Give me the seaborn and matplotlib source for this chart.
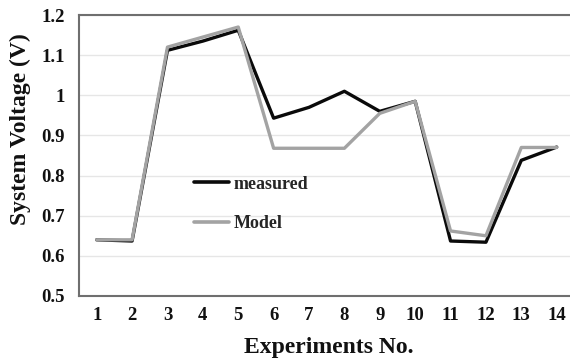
import matplotlib
matplotlib.use("Agg")
import matplotlib.pyplot as plt
import seaborn as sns
import pandas as pd

experiments = list(range(1, 15))
measured = [0.64, 0.637, 1.112, 1.135, 1.162, 0.943, 0.97, 1.01, 0.96, 0.985, 0.637, 0.634, 0.838, 0.871]
model = [0.64, 0.64, 1.12, 1.145, 1.17, 0.868, 0.868, 0.868, 0.955, 0.985, 0.662, 0.65, 0.87, 0.87]
series_names = ["measured", "Model"]
y_ticks = [0.5, 0.6, 0.7, 0.8, 0.9, 1.0, 1.1, 1.2]
y_tick_labels = ["0.5", "0.6", "0.7", "0.8", "0.9", "1", "1.1", "1.2"]

df = pd.DataFrame({
    "Experiment": experiments * 2,
    "Voltage": measured + model,
    "Series": [series_names[0]] * len(measured) + [series_names[1]] * len(model),
})

sns.set_theme(style="white")
plt.rcParams["font.family"] = ["Liberation Serif", "DejaVu Serif"]
plt.rcParams["font.weight"] = "bold"

fig = plt.figure(figsize=(5.70, 3.59), dpi=100)
W, H = 570, 359
left, right, top, bottom = 79, 574.4, 15, 296
ax = fig.add_axes([left / W, 1 - bottom / H, (right - left) / W, (bottom - top) / H])

sns.lineplot(data=df, x="Experiment", y="Voltage", hue="Series",
             hue_order=series_names, palette=["#0a0a0a", "#a3a3a3"],
             linewidth=2.4, ax=ax)

ax.set_xlim(0.5, 14.5)
ax.set_ylim(0.5, 1.2)
ax.set_yticks(y_ticks)
ax.set_yticklabels(y_tick_labels)
ax.set_xticks(experiments)
ax.set_xticklabels([str(e) for e in experiments])
ax.yaxis.grid(True, color="#e6e6e6", linewidth=1.0)
ax.set_axisbelow(True)

for side in ["left", "top", "bottom"]:
    ax.spines[side].set_color("#6f6f6f")
    ax.spines[side].set_linewidth(1.5)
ax.spines["right"].set_visible(False)

ax.tick_params(axis="both", length=0, labelsize=13.5, colors="#111111")
ax.tick_params(axis="y", pad=10)
ax.tick_params(axis="x", pad=8)
for lbl in ax.get_xticklabels() + ax.get_yticklabels():
    lbl.set_fontweight("bold")

ax.set_xlabel("Experiments No.", fontsize=17, fontweight="bold", color="#111111")
ax.set_ylabel("System Voltage (V)", fontsize=17, fontweight="bold", color="#111111")
ax.xaxis.set_label_coords((329 - left) / (right - left), -(347 - bottom) / (bottom - top))
ax.yaxis.set_label_coords(-(left - 20) / (right - left), (296 - 129) / (bottom - top))
ax.xaxis.label.set_va("center")
ax.yaxis.label.set_va("center")

leg = ax.legend(loc="center left", bbox_to_anchor=(0.232, 0.328), frameon=False,
                borderpad=0, borderaxespad=0, handlelength=1.95, handletextpad=0.25,
                labelspacing=1.25, prop={"family": "Liberation Serif", "weight": "bold", "size": 13})
for line in leg.get_lines():
    line.set_linewidth(2.6)

fig.savefig("out.png", dpi=100, facecolor="white")
